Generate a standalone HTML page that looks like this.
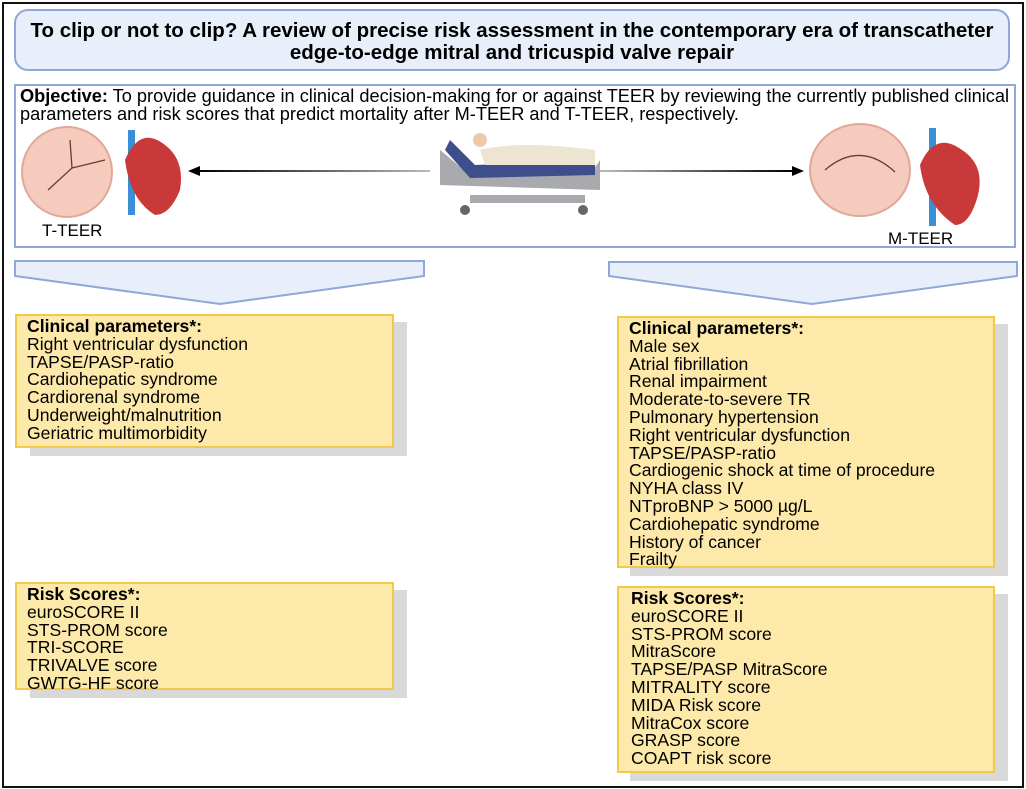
<!DOCTYPE html>
<html><head><meta charset="utf-8"><style>
body{margin:0;width:1026px;height:789px;background:#fff;font-family:"Liberation Sans",Arial,sans-serif;position:relative;overflow:hidden}
.abs{position:absolute}
.note{position:absolute;background:#fde9a9;border:2px solid #f2c94c;box-sizing:border-box;font-size:17.6px;line-height:17.8px;color:#000;padding:2px 10px;white-space:nowrap}
.sh{position:absolute;background:#d9d9d9}
b{font-weight:bold}
</style></head><body>
<div class="abs" style="left:2px;top:2px;width:1018px;height:782px;border:2px solid #111"></div>
<div class="abs" style="left:14px;top:9px;width:996px;height:62px;border:2px solid #8fa8d8;border-radius:14px;background:#e9effa;text-align:center;font-weight:bold;font-size:20.5px;line-height:22px;padding-top:9px;box-sizing:border-box;white-space:nowrap">To clip or not to clip? A review of precise risk assessment in the contemporary era of transcatheter<br>edge-to-edge mitral and tricuspid valve repair</div>
<div class="abs" style="left:14px;top:84px;width:1002px;height:164px;border:2px solid #8fa8d8;box-sizing:border-box;font-size:18.2px;line-height:17.5px;padding:2px 0 0 4px;white-space:nowrap"><b>Objective:</b> To provide guidance in clinical decision-making for or against TEER by reviewing the currently published clinical<br>parameters and risk scores that predict mortality after M-TEER and T-TEER, respectively.</div>
<svg class="abs" style="left:0;top:0" width="1026" height="789">
<defs><linearGradient id="g1" x1="0" x2="1"><stop offset="0" stop-color="#000"/><stop offset="1" stop-color="#bbb"/></linearGradient>
<linearGradient id="g2" x1="0" x2="1"><stop offset="0" stop-color="#bbb"/><stop offset="1" stop-color="#000"/></linearGradient></defs>
<circle cx="67" cy="172" r="45" fill="#f4cbbd" stroke="#e0a898" stroke-width="2"/>
<path d="M70 140 L72 168 L48 190 M72 168 L105 160" stroke="#6b3a30" fill="none" stroke-width="1.3"/>
<ellipse cx="860" cy="170" rx="50" ry="46" fill="#f4cbbd" stroke="#e0a898" stroke-width="2"/>
<path d="M825 170 Q860 140 895 172" stroke="#6b3a30" fill="none" stroke-width="1.3"/>
<rect x="128" y="130" width="7" height="85" fill="#3a8fd6"/>
<path d="M125 160 Q140 125 165 145 Q185 160 180 190 Q170 215 155 215 Q130 200 125 160Z" fill="#c9393a"/>
<rect x="929" y="128" width="7" height="98" fill="#3a8fd6"/>
<path d="M920 165 Q935 130 962 150 Q985 165 978 195 Q970 225 955 225 Q925 205 920 165Z" fill="#c9393a"/>
<rect x="198" y="170" width="232" height="2" fill="url(#g1)"/>
<path d="M188 171 L200 166 L200 176Z" fill="#000"/>
<rect x="600" y="170" width="194" height="2" fill="url(#g2)"/>
<path d="M804 171 L792 166 L792 176Z" fill="#000"/>
<path d="M440 150 L470 175 L590 175 L600 160 L600 190 L440 185Z" fill="#a8aaad"/>
<path d="M450 140 L475 165 L595 160 L595 175 L470 178 L445 150Z" fill="#3c4f8a"/>
<path d="M480 150 Q520 140 595 150 L595 165 L485 165Z" fill="#ede4d2"/>
<circle cx="480" cy="140" r="7" fill="#eec9a8"/>
<rect x="470" y="195" width="115" height="8" fill="#a8aaad"/>
<circle cx="465" cy="210" r="5" fill="#666"/><circle cx="583" cy="210" r="5" fill="#666"/>
<path d="M15 261 L424 261 L424 276 L220 304 L15 276Z" fill="#e9effa" stroke="#8fa8d8" stroke-width="2"/>
<path d="M609 262 L1017 262 L1017 276 L812 304 L609 276Z" fill="#e9effa" stroke="#8fa8d8" stroke-width="2"/>
</svg>
<div class="abs" style="left:42px;top:221px;font-size:17px">T-TEER</div>
<div class="abs" style="left:888px;top:229px;font-size:17px">M-TEER</div>
<div class="sh" style="left:30px;top:322px;width:377px;height:134px"></div>
<div class="note" style="left:15px;top:314px;width:379px;height:134px"><b>Clinical parameters*:</b><br>Right ventricular dysfunction<br>TAPSE/PASP-ratio<br>Cardiohepatic syndrome<br>Cardiorenal syndrome<br>Underweight/malnutrition<br>Geriatric multimorbidity</div>
<div class="sh" style="left:30px;top:590px;width:377px;height:108px"></div>
<div class="note" style="left:15px;top:582px;width:379px;height:108px"><b>Risk Scores*:</b><br>euroSCORE II<br>STS-PROM score<br>TRI-SCORE<br>TRIVALVE score<br>GWTG-HF score</div>
<div class="sh" style="left:630px;top:324px;width:378px;height:252px"></div>
<div class="note" style="left:617px;top:316px;width:378px;height:252px"><b>Clinical parameters*:</b><br>Male sex<br>Atrial fibrillation<br>Renal impairment<br>Moderate-to-severe TR<br>Pulmonary hypertension<br>Right ventricular dysfunction<br>TAPSE/PASP-ratio<br>Cardiogenic shock at time of procedure<br>NYHA class IV<br>NTproBNP &gt; 5000 µg/L<br>Cardiohepatic syndrome<br>History of cancer<br>Frailty</div>
<div class="sh" style="left:630px;top:594px;width:378px;height:187px"></div>
<div class="note" style="left:617px;top:586px;width:378px;height:187px;padding-left:12px"><b>Risk Scores*:</b><br>euroSCORE II<br>STS-PROM score<br>MitraScore<br>TAPSE/PASP MitraScore<br>MITRALITY score<br>MIDA Risk score<br>MitraCox score<br>GRASP score<br>COAPT risk score</div>
</body></html>
